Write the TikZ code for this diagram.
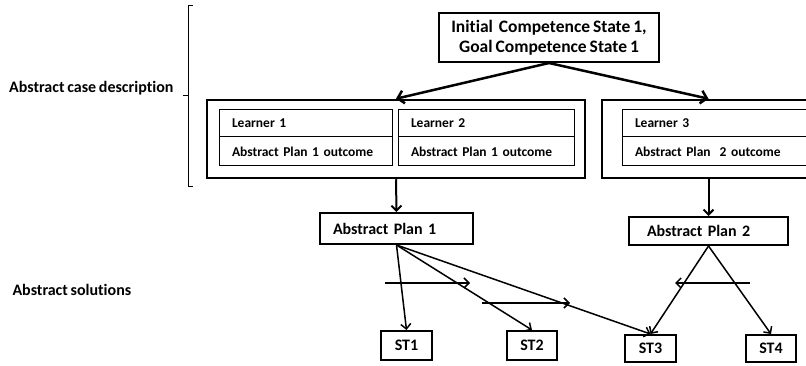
\documentclass[tikz,border=0pt]{standalone}
\usepackage{fontspec}
\setmainfont{Carlito}[WordSpace=0.75, Ligatures=NoCommon]
\usetikzlibrary{arrows.meta, positioning}
\tikzset{
	line width = 1.5pt,
	>={Straight Barb[length=5pt, width=10pt]},
	font = \bfseries\fontsize{16pt}{18pt}\selectfont,
	box/.style={
		draw,
		rectangle,
		line width=2pt,
		inner sep=0pt
	},
	outerbox/.style={
		draw,
		rectangle,
		line width=2.5pt,
		inner sep=0pt
	},
	cell/.style={
		draw,
		rectangle,
		line width=1pt,
		inner xsep=13pt,
		inner ysep=0pt,
		text width=#1,
		align=left,
		font=\bfseries\fontsize{13.5pt}{15pt}\selectfont
	},
	edge/.style={
		->,
		line width=1.5pt
	},
	bigedge/.style={
		-{Straight Barb[length=6pt, width=13pt]},
		line width=2.5pt
	}
}

\begin{document}
\begin{tikzpicture}[x=1pt, y=-1pt]
		\clip (0,0) rectangle (806,366);

		% labels on the left
		\node[anchor=east] (lcase) at (177,88) {Abstract case description};
		\node[anchor=west] (lsol) at (9,290) {Abstract solutions};
		\draw (193,5) -- (188,5) -- (188,186) -- (193,186);
		\draw (183,95) -- (188,95);

		% top
		\node[box, minimum width=220pt, minimum height=49pt, align=center,
			font=\bfseries\fontsize{17.5pt}{20pt}\selectfont] (init) at (549,37.5)
			{Initial~ Competence State 1,\\ Goal Competence State 1};

		% case boxes
		\node[outerbox, minimum width=378pt, minimum height=78pt] (case) at (396,139) {};
		\node[outerbox, minimum width=268pt, minimum height=78pt] (caseR) at (736,139) {};

		\node[cell=147pt, minimum height=27pt] (l1) at (305.5,123.5) {Learner 1};
		\node[cell=147pt, minimum height=29pt] (l1o) at (305.5,151.5) {Abstract Plan 1 outcome};
		\node[cell=150pt, minimum height=27pt] (l2) at (486,123.5) {Learner 2};
		\node[cell=150pt, minimum height=29pt] (l2o) at (486,151.5) {Abstract Plan 1 outcome};
		\node[cell=202pt, minimum height=27pt] (l3) at (736,123.5) {Learner 3};
		\node[cell=202pt, minimum height=29pt] (l3o) at (736,151.5) {Abstract Plan~ 2 outcome};

		% plans
		\node[box, minimum width=153pt, minimum height=31pt, inner xsep=13pt,
			text width=127pt, align=left] (ap1) at (396.5,228.5) {Abstract Plan 1};
		\node[box, minimum width=159pt, minimum height=28pt, inner xsep=18pt,
			text width=123pt, align=left] (ap2) at (708.5,231) {Abstract Plan 2};

		% solutions
		\node[box, minimum width=51pt, minimum height=29pt] (st1) at (406.5,345.5) {ST1};
		\node[box, minimum width=50pt, minimum height=29pt] (st2) at (532,345.5) {ST2};
		\node[box, minimum width=51pt, minimum height=27pt] (st3) at (650.5,348.5) {ST3};
		\node[box, minimum width=50pt, minimum height=27pt] (st4) at (771,348.5) {ST4};

		\coordinate (h1s) at (385,283);
		\coordinate (h1e) at (470,283);
		\coordinate (h2s) at (482,303);
		\coordinate (h2e) at (570,303);
		\coordinate (h3s) at (750,283);
		\coordinate (h3e) at (675,283);

		\draw[bigedge] (init.south) to (case.north);
		\draw[bigedge] (init.south) to (ap2.north |- caseR.north);
		\draw[edge, line width=2pt] (case.south) to (ap1.north);
		\draw[edge, line width=2pt] (ap2.north |- caseR.south) to (ap2.north);

		\draw[edge] (ap1.south) to (st1.north);
		\draw[edge] (ap1.south) to (st2.north);
		\draw[edge] (ap1.south) to (st3.north);
		\draw[edge] (ap2.south) to (st3.north);
		\draw[edge] (ap2.south) to (st4.north);

		\draw[edge] (h1s) to (h1e);
		\draw[edge] (h2s) to (h2e);
		\draw[edge] (h3s) to (h3e);
	\end{tikzpicture}
\end{document}
